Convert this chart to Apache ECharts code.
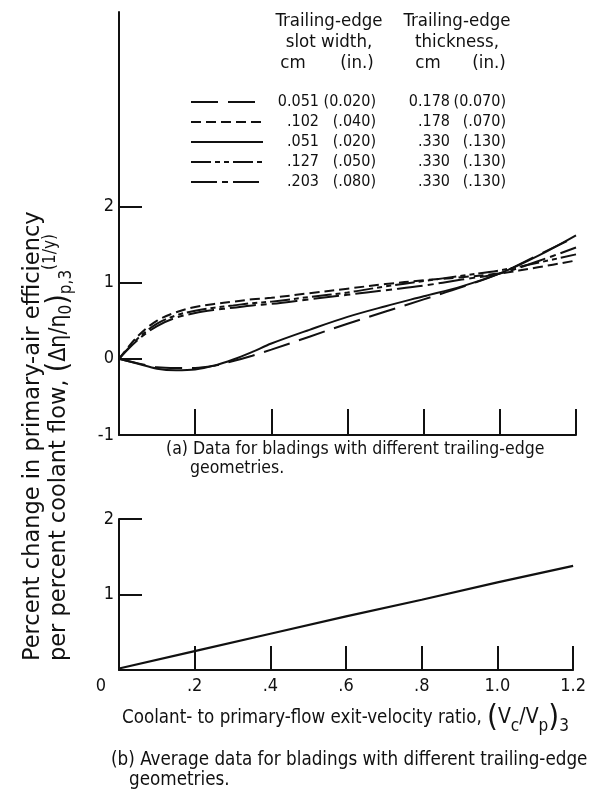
<!DOCTYPE html>
<html>
<head>
<meta charset="utf-8">
<title>Primary-air efficiency vs. coolant velocity ratio</title>
<script src="https://cdn.jsdelivr.net/npm/echarts@6/dist/echarts.min.js"></script>
<style>
  html, body { margin: 0; padding: 0; background: #fff; }
  #chart { width: 589px; height: 804px; }
</style>
</head>
<body>
<div id="chart"></div>
<script>
// ---- data ----------------------------------------------------------------
// Coolant- to primary-flow exit-velocity ratio (Vc/Vp)3
const ratio = [0, 0.05, 0.1, 0.15, 0.2, 0.25, 0.3, 0.35, 0.4, 0.5, 0.6, 0.7, 0.8, 0.9, 1.0, 1.1, 1.2];

// Percent change in primary-air efficiency per percent coolant flow, one row per blading
const effSlot051Thick178 = [0, -0.06, -0.11, -0.12, -0.12, -0.09, -0.03, 0.04, 0.12, 0.29, 0.46, 0.62, 0.78, 0.94, 1.12, 1.36, 1.60];
const effSlot102Thick178 = [0, 0.30, 0.50, 0.61, 0.68, 0.72, 0.75, 0.78, 0.80, 0.86, 0.92, 0.98, 1.03, 1.07, 1.12, 1.20, 1.29];
const effSlot051Thick330 = [0, -0.065, -0.13, -0.15, -0.14, -0.09, -0.01, 0.09, 0.20, 0.38, 0.55, 0.69, 0.82, 0.95, 1.12, 1.35, 1.62];
const effSlot127Thick330 = [0, 0.27, 0.46, 0.57, 0.63, 0.67, 0.70, 0.73, 0.75, 0.81, 0.87, 0.95, 1.02, 1.09, 1.16, 1.26, 1.37];
const effSlot203Thick330 = [0, 0.25, 0.43, 0.54, 0.60, 0.64, 0.67, 0.70, 0.72, 0.78, 0.84, 0.90, 0.96, 1.04, 1.12, 1.28, 1.46];

// Average over all bladings
const avgRatio = [0, 0.2, 0.4, 0.6, 0.8, 1.0, 1.2];
const avgEff = [0.02, 0.25, 0.48, 0.71, 0.93, 1.16, 1.38];

// Legend table: trailing-edge slot width and thickness
const slotCm  = ['0.051', '.102', '.051', '.127', '.203'];
const slotIn  = ['(0.020)', '(.040)', '(.020)', '(.050)', '(.080)'];
const thickCm = ['0.178', '.178', '.330', '.330', '.330'];
const thickIn = ['(0.070)', '(.070)', '(.130)', '(.130)', '(.130)'];

// Axis ticks and labels
const xTickValues = [0.2, 0.4, 0.6, 0.8, 1.0, 1.2];
const xTickLabels = ['0', '.2', '.4', '.6', '.8', '1.0', '1.2'];
const yTicksTop = [0, 1, 2];
const yLabelsTop = [-1, 0, 1, 2];
const yTicksBottom = [1, 2];
const yLabelsBottom = [1, 2];

// ---- styling -------------------------------------------------------------
const FONT = "'DejaVu Sans Condensed', 'DejaVu Sans', sans-serif";
const WIDE = "'DejaVu Sans', sans-serif";
const INK = '#111';
const dashStyles = [
  [27, 10],                // long dash
  [10, 5],                 // short dash
  'solid',
  [20, 4, 5, 4, 5, 4],     // dash-dot-dot
  [26, 5, 6, 5]            // dash-dot
];
const curves = [effSlot051Thick178, effSlot102Thick178, effSlot051Thick330, effSlot127Thick330, effSlot203Thick330];
const names = slotCm.map((s, i) => s + ' ' + slotIn[i] + ' / ' + thickCm[i] + ' ' + thickIn[i]);

function pairs(xs, ys) { return xs.map((x, i) => [x, ys[i]]); }

const axisLineStyle = { color: INK, width: 2 };

const series = curves.map((c, i) => ({
  name: names[i],
  type: 'line',
  xAxisIndex: 0,
  yAxisIndex: 0,
  data: pairs(ratio, c),
  symbol: 'none',
  smooth: 0.35,
  itemStyle: { color: INK },
  lineStyle: { color: INK, width: 2, type: dashStyles[i] },
  silent: true
}));
series.push({
  name: 'average',
  type: 'line',
  xAxisIndex: 1,
  yAxisIndex: 1,
  data: pairs(avgRatio, avgEff),
  symbol: 'none',
  itemStyle: { color: INK },
  lineStyle: { color: INK, width: 2.2 },
  silent: true
});

const cell = (w) => ({ width: w, align: 'right', fontFamily: FONT, fontSize: 16, color: INK, lineHeight: 13 });
const rowRich = { a: cell(51), b: cell(57), c: cell(74), d: cell(56) };

function txt(x, y, text, size, align) {
  return { type: 'text', x: x, y: y, silent: true,
    style: { text: text, fontFamily: FONT, fontSize: size, fill: INK, align: align || 'left', verticalAlign: 'middle' } };
}

const graphics = [
  // legend headings
  txt(329, 21, 'Trailing-edge', 18.5, 'center'),
  txt(329, 42, 'slot width,', 18.5, 'center'),
  txt(293, 63, 'cm', 18.5, 'center'),
  txt(357, 63, '(in.)', 18.5, 'center'),
  txt(457, 21, 'Trailing-edge', 18.5, 'center'),
  txt(457, 42, 'thickness,', 18.5, 'center'),
  txt(428, 63, 'cm', 18.5, 'center'),
  txt(489, 63, '(in.)', 18.5, 'center'),
  // panel captions
  txt(166, 449, '(a) Data for bladings with different trailing-edge', 17.5),
  txt(190, 468, 'geometries.', 17.5),
  txt(111, 760, '(b) Average data for bladings with different trailing-edge', 18.7),
  txt(129, 780, 'geometries.', 18.7),
  // shared vertical axis title, first line
  { type: 'text', x: 33, y: 661, rotation: Math.PI / 2, silent: true,
    style: { text: 'Percent change in primary-air efficiency', fontFamily: WIDE, fontSize: 22.5,
      fill: INK, align: 'left', verticalAlign: 'middle' } },
  // second line with (Δη/η0)p,3 (1/y)
  { type: 'text', x: 59, y: 661, rotation: Math.PI / 2, silent: true,
    style: {
      text: '{t|per percent coolant flow, }{p|(}{m|Δη/η}{s|0}{p|)}{s|p,3}{u|(1/y)}',
      fontFamily: WIDE, fontSize: 22.5, fill: INK, align: 'left', verticalAlign: 'middle',
      rich: {
        t: { fontFamily: WIDE, fontSize: 22.5, fill: INK, lineHeight: 24 },
        m: { fontFamily: FONT, fontSize: 23, fill: INK, lineHeight: 25 },
        p: { fontFamily: FONT, fontSize: 30, fill: INK, lineHeight: 33 },
        s: { fontFamily: FONT, fontSize: 17, fill: INK, lineHeight: 15, verticalAlign: 'bottom' },
        u: { fontFamily: FONT, fontSize: 17, fill: INK, lineHeight: 15, verticalAlign: 'top' }
      }
    } },
  // horizontal axis title
  { type: 'text', x: 122, y: 718, silent: true,
    style: {
      text: '{t|Coolant- to primary-flow exit-velocity ratio, }{p|(}{m|V}{s|c}{m|/V}{s|p}{p|)}{s|3}',
      fontFamily: FONT, fontSize: 18.6, fill: INK, align: 'left', verticalAlign: 'middle',
      rich: {
        t: { fontFamily: FONT, fontSize: 18.6, fill: INK, lineHeight: 22 },
        m: { fontFamily: FONT, fontSize: 21, fill: INK, lineHeight: 24 },
        p: { fontFamily: FONT, fontSize: 31, fill: INK, lineHeight: 34 },
        s: { fontFamily: FONT, fontSize: 17, fill: INK, lineHeight: 15, verticalAlign: 'bottom' }
      }
    } }
];

const option = {
  animation: false,
  backgroundColor: '#fff',
  textStyle: { fontFamily: FONT, color: INK },
  grid: [
    { left: 119, top: 12, width: 457, height: 423 },
    { left: 119, top: 519, width: 457, height: 151 }
  ],
  xAxis: [
    { type: 'value', gridIndex: 0, min: 0, max: 1.2, interval: 0.2,
      axisLine: { onZero: false, lineStyle: axisLineStyle },
      axisTick: { inside: true, length: 26, customValues: xTickValues, lineStyle: axisLineStyle },
      axisLabel: { show: false }, splitLine: { show: false } },
    { type: 'value', gridIndex: 1, min: 0, max: 1.2, interval: 0.2,
      axisLine: { onZero: false, lineStyle: axisLineStyle },
      axisTick: { inside: true, length: 24, customValues: xTickValues, lineStyle: axisLineStyle },
      axisLabel: { margin: 7, fontFamily: FONT, fontSize: 18, color: INK, hideOverlap: false,
        showMinLabel: true, showMaxLabel: true,
        formatter: function (v) {
          const i = Math.round(v / 0.2);
          return i === 0 ? '{z|' + xTickLabels[0] + '}' : xTickLabels[i];
        },
        rich: { z: { fontFamily: FONT, fontSize: 18, color: INK, padding: [0, 36, 0, 0] } } },
      splitLine: { show: false } }
  ],
  yAxis: [
    { type: 'value', gridIndex: 0, min: -1, max: 4.55, interval: 1,
      axisLine: { show: true, onZero: false, lineStyle: axisLineStyle },
      axisTick: { inside: true, length: 23, customValues: yTicksTop, lineStyle: axisLineStyle },
      axisLabel: { margin: 5, customValues: yLabelsTop, fontFamily: FONT, fontSize: 18, color: INK,
        formatter: v => (v <= 2 ? String(v) : '') },
      splitLine: { show: false } },
    { type: 'value', gridIndex: 1, min: 0, max: 2, interval: 1,
      axisLine: { show: true, onZero: false, lineStyle: axisLineStyle },
      axisTick: { inside: true, length: 23, customValues: yTicksBottom, lineStyle: axisLineStyle },
      axisLabel: { margin: 5, customValues: yLabelsBottom, fontFamily: FONT, fontSize: 18, color: INK,
        formatter: v => (v >= 1 ? String(v) : '') },
      splitLine: { show: false } }
  ],
  legend: {
    data: names,
    orient: 'vertical',
    left: 190,
    top: 94,
    itemWidth: 72,
    itemHeight: 13,
    itemGap: 4,
    padding: 0,
    selectedMode: false,
    itemStyle: { opacity: 0 },
    formatter: function (name) {
      const i = names.indexOf(name);
      return '{a|' + slotCm[i] + '}{b|' + slotIn[i] + '}{c|' + thickCm[i] + '}{d|' + thickIn[i] + '}';
    },
    textStyle: { fontFamily: FONT, fontSize: 16, color: INK, rich: rowRich }
  },
  graphic: graphics,
  series: series
};

const chart = echarts.init(document.getElementById('chart'), null, { renderer: 'canvas' });
chart.setOption(option);
</script>
</body>
</html>
